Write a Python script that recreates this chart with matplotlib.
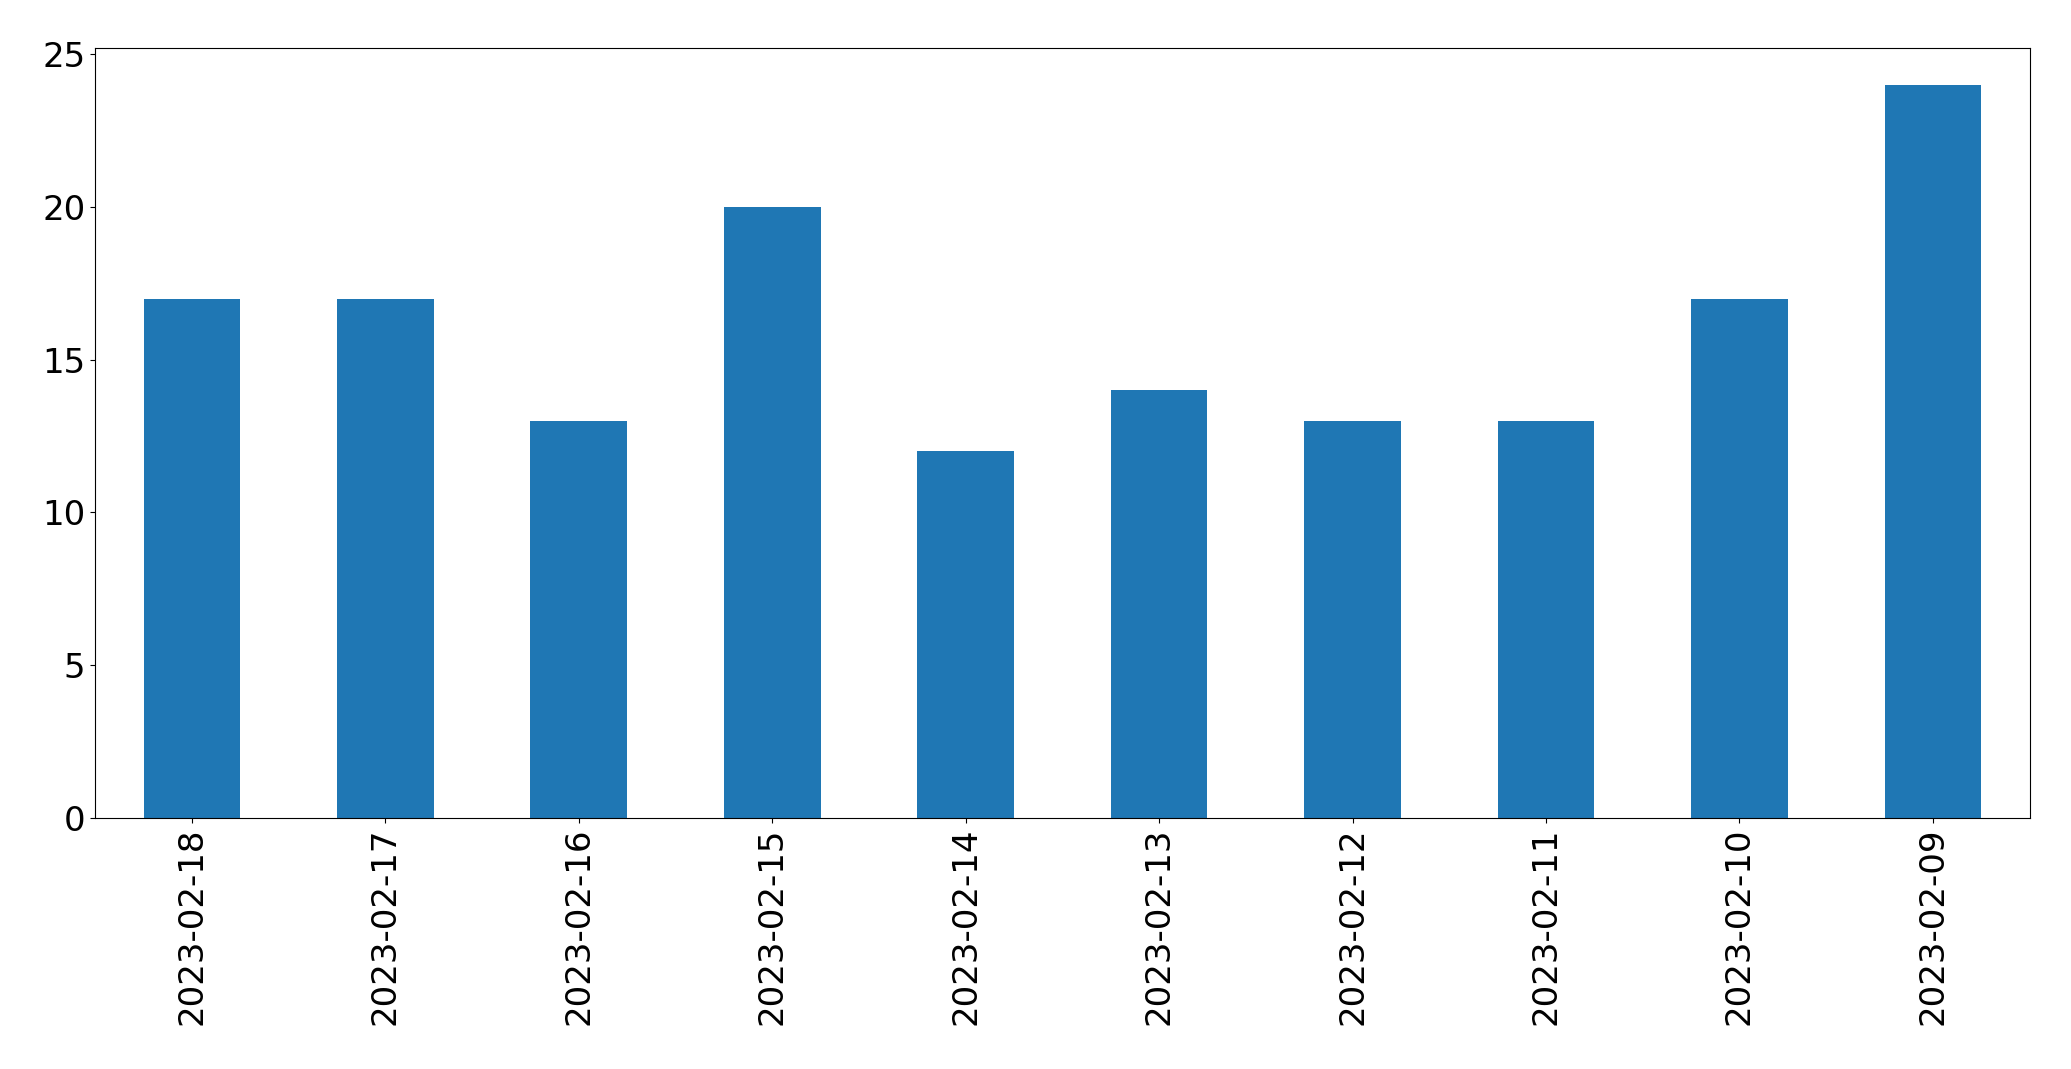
import matplotlib
matplotlib.use('Agg')
import matplotlib.pyplot as plt
import pandas as pd

dates = ['2023-02-18', '2023-02-17', '2023-02-16', '2023-02-15', '2023-02-14',
         '2023-02-13', '2023-02-12', '2023-02-11', '2023-02-10', '2023-02-09']
counts = [17, 17, 13, 20, 12, 14, 13, 13, 17, 24]

plt.rcParams['font.size'] = 24.5

s = pd.Series(counts, index=dates)
fig, ax = plt.subplots(figsize=(20.71, 10.69), dpi=100)
s.plot(kind='bar', ax=ax, color='#1f77b4')
fig.subplots_adjust(left=0.046, right=0.980, top=0.955, bottom=0.235)
fig.savefig('out.png', dpi=100)
